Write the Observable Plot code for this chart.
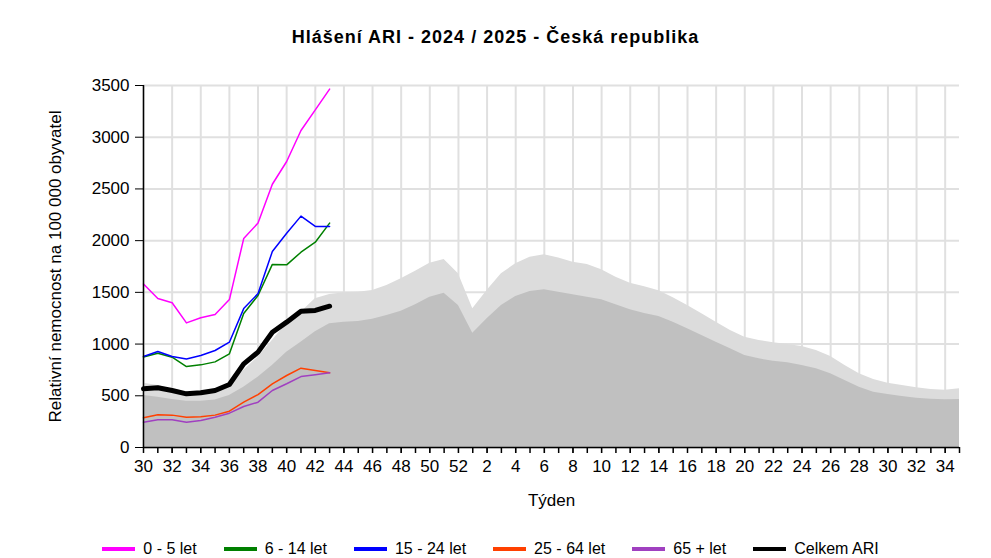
<!DOCTYPE html>
<html>
<head>
<meta charset="utf-8">
<script src="https://cdn.jsdelivr.net/npm/d3@7"></script>
<script src="https://cdn.jsdelivr.net/npm/@observablehq/plot@0.6"></script>
<style>
  body { margin: 0; background: #fff; font-family: "Liberation Sans", Arial, sans-serif; }
  #wrap { width: 991px; height: 558px; position: relative; overflow: hidden; }
  #title { height: 60px; box-sizing: border-box; padding-top: 27px; text-align: center; font-weight: bold; font-size: 18px; letter-spacing: 1px; line-height: 20px; color: #000; }
  #legend { position: absolute; top: 539px; left: 0; width: 991px; box-sizing: border-box; padding-right: 10px; display: flex; justify-content: center; gap: 27px; font-size: 16px; line-height: 20px; }
  .item { display: flex; align-items: center; gap: 8px; }
  .sw { width: 33px; height: 4px; }
</style>
</head>
<body>
<div id="wrap">
  <div id="title">Hlášení ARI - 2024 / 2025 - Česká republika</div>
  <div id="chart"></div>
  <div id="legend"></div>
</div>
<script>
const weeks = [30,31,32,33,34,35,36,37,38,39,40,41,42,43,44,45,46,47,48,49,50,51,52,
  1,2,3,4,5,6,7,8,9,10,11,12,13,14,15,16,17,18,19,20,21,22,23,24,25,26,27,28,29,30,31,32,33,34,35];

// Background seasonal bands (per week, same order as weeks)
const bandUpper = [620,600,565,535,525,545,610,745,873,1035,1198,1308,1438,1480,1495,1500,1518,1566,1631,1705,1782,1818,1679,
  1341,1518,1679,1776,1840,1863,1831,1792,1769,1718,1647,1589,1555,1515,1447,1373,1292,1212,1131,1067,1035,1012,996,977,938,880,793,712,657,622,600,577,561,554,567];
const bandLower = [503,486,464,448,448,460,503,583,680,793,922,1018,1120,1196,1212,1218,1241,1276,1318,1380,1453,1492,1373,
  1105,1244,1373,1460,1508,1525,1502,1476,1453,1428,1380,1331,1295,1267,1212,1147,1083,1018,954,890,857,834,819,793,761,712,648,583,535,512,493,477,467,461,464];

// Current season series (weeks 30 - 43)
const age0_5   = [1580,1440,1400,1205,1255,1285,1430,2020,2170,2545,2765,3065,3265,3465];
const age6_14  = [875,912,873,783,799,828,906,1295,1470,1770,1766,1888,1985,2169];
const age15_24 = [880,928,880,855,890,938,1018,1343,1488,1895,2072,2237,2137,2137];
const age25_64 = [287,316,313,293,297,313,351,438,512,616,696,767,744,722];
const age65    = [245,268,268,245,261,293,332,396,438,551,616,686,703,722];
const celkem   = [567,577,551,519,529,551,609,809,922,1115,1212,1318,1325,1366];

const seriesNames = ["0 - 5 let","6 - 14 let","15 - 24 let","25 - 64 let","65 + let","Celkem ARI"];
const seriesData = [age0_5, age6_14, age15_24, age25_64, age65, celkem];
const seriesColors = ["#ff00ff","#008000","#0000ff","#ff4000","#a040c0","#000000"];
const seriesWidths = [1.5,1.5,1.5,1.5,1.5,5];
const yTicks = [0,500,1000,1500,2000,2500,3000,3500];

const band = weeks.map((w, i) => ({i, upper: bandUpper[i], lower: bandLower[i]}));
const lineRows = [];
seriesData.forEach((arr, s) => arr.forEach((v, i) => lineRows.push({i, v, s: seriesNames[s]})));

const idx = d3.range(weeks.length);
const even = idx.filter(i => i % 2 === 0);

const lineMarks = seriesNames.map((name, s) =>
  Plot.line(lineRows.filter(d => d.s === name), {x: "i", y: "v", stroke: seriesColors[s], strokeWidth: seriesWidths[s], strokeLinejoin: "round"})
);

const chart = Plot.plot({
  width: 991,
  height: 457,
  marginLeft: 143,
  marginRight: 32,
  marginTop: 25,
  marginBottom: 70,
  style: {fontFamily: "'Liberation Sans', Arial, sans-serif", fontSize: "16px", color: "#000", background: "#fff"},
  x: {domain: [0, weeks.length - 1]},
  y: {domain: [0, 3500]},
  marks: [
    Plot.gridY(yTicks, {stroke: "#e0e0e0", strokeOpacity: 1, strokeWidth: 2}),
    Plot.gridX(even, {stroke: "#e0e0e0", strokeOpacity: 1, strokeWidth: 2}),
    Plot.areaY(band, {x: "i", y: "upper", fill: "#dcdcdc"}),
    Plot.areaY(band, {x: "i", y: "lower", fill: "#c0c0c0"}),
    ...lineMarks,
    Plot.axisX(idx, {tickSize: 6, tickFormat: () => "", label: null, strokeWidth: 1.5}),
    Plot.axisX(even, {tickSize: 6, tickFormat: i => String(weeks[i]), tickPadding: 6, label: "Týden", labelAnchor: "center", labelOffset: 58, labelArrow: "none", fontSize: 17}),
    Plot.axisY(yTicks, {tickSize: 8, tickPadding: 6, tickFormat: d => String(d), label: "Relativní nemocnost na 100 000 obyvatel", labelAnchor: "center", labelOffset: 95, labelArrow: "none", fontSize: 17}),
    Plot.ruleY([0], {stroke: "#000", strokeWidth: 1.5}),
    Plot.ruleX([0], {stroke: "#000", strokeWidth: 1.5})
  ]
});
document.getElementById("chart").appendChild(chart);

const legend = document.getElementById("legend");
seriesNames.forEach((name, s) => {
  const item = document.createElement("div");
  item.className = "item";
  const sw = document.createElement("div");
  sw.className = "sw";
  sw.style.background = seriesColors[s];
  const t = document.createElement("span");
  t.textContent = name;
  item.appendChild(sw); item.appendChild(t);
  legend.appendChild(item);
});
</script>
</body>
</html>
